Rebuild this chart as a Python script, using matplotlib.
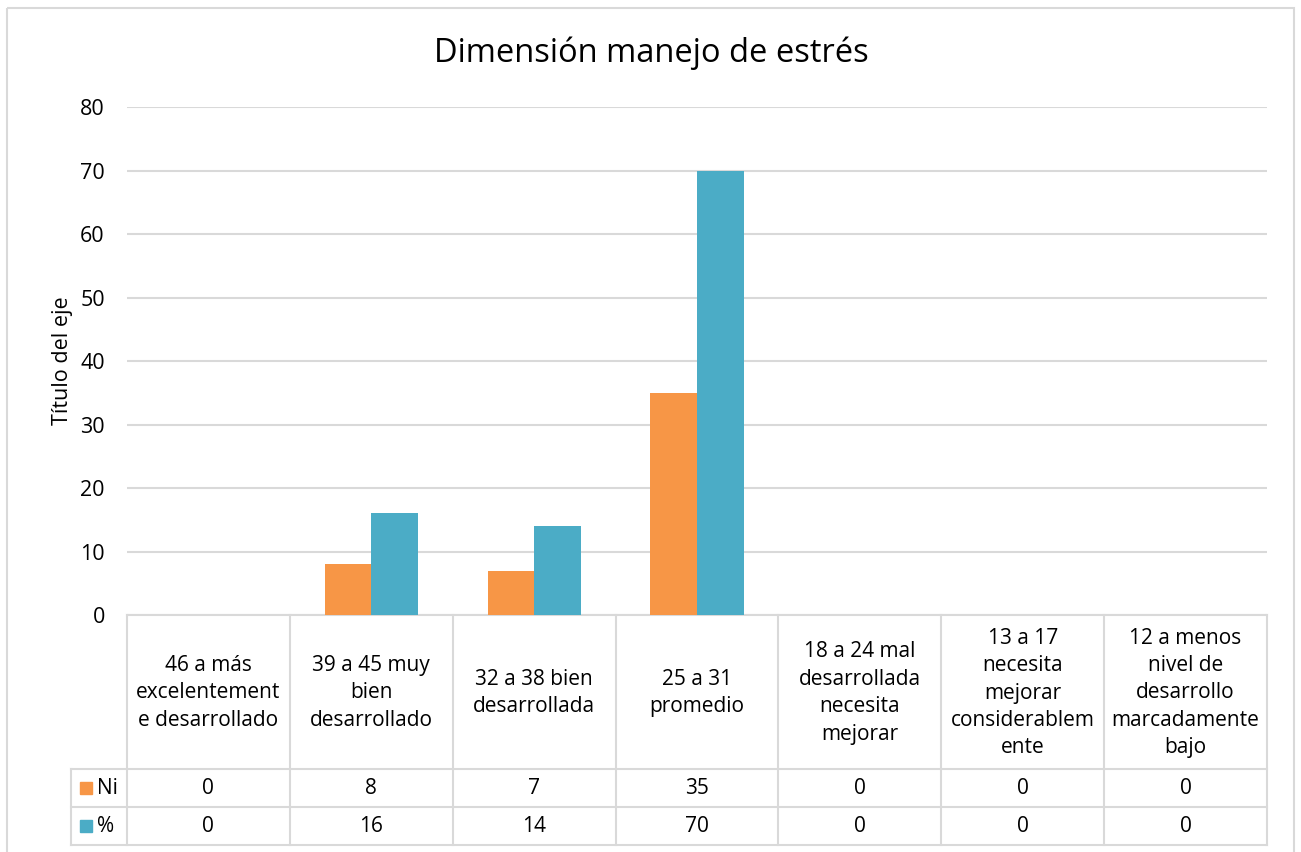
import matplotlib
matplotlib.use('Agg')
import matplotlib.pyplot as plt
from matplotlib.patches import Rectangle
import numpy as np

plt.rcParams['font.family'] = ['Open Sans', 'DejaVu Sans']

# ── Data ──────────────────────────────────────────────────────────────────────
categories = ["46 a más\nexcelentement\ne desarrollado",
              "39 a 45 muy\nbien\ndesarrollado",
              "32 a 38 bien\ndesarrollada",
              "25 a 31\npromedio",
              "18 a 24 mal\ndesarrollada\nnecesita\nmejorar",
              "13 a 17\nnecesita\nmejorar\nconsiderablem\nente",
              "12 a menos\nnivel de\ndesarrollo\nmarcadamente\nbajo"]
ni_values  = [0, 8, 7, 35, 0, 0, 0]
pct_values = [0, 16, 14, 70, 0, 0, 0]
series_names = ["Ni", "%"]
series_colors = ['#F79646', '#4BACC6']
title = "Dimensión manejo de estrés"
ylabel = "Título del eje"

# ── Layout (pixels) ───────────────────────────────────────────────────────────
W, H = 1301, 852
GRID = '#D9D9D9'
x0, x1 = 127, 1267          # plot area left/right
y_top, y_zero = 107, 615    # y=80 and y=0
lab_x = 71                  # left edge of legend column in table
row_edges = [615, 769, 807, 845]

fig = plt.figure(figsize=(W/100, H/100), dpi=100)
fig.patch.set_facecolor('white')

# overlay in pixel coordinates for frame + table
ov = fig.add_axes([0, 0, 1, 1])
ov.set_xlim(0, W)
ov.set_ylim(H, 0)
ov.axis('off')
ov.add_patch(Rectangle((7, 8), 1287, 860, fill=False, edgecolor=GRID, lw=1.5))

# main bar axes
ax = fig.add_axes([x0/W, 1 - y_zero/H, (x1 - x0)/W, (y_zero - y_top)/H])
ax.set_facecolor('none')
n = len(categories)
x = np.arange(n) + 0.5
w = 0.286
ax.bar(x - w/2, ni_values, w, color=series_colors[0], zorder=3)
ax.bar(x + w/2, pct_values, w, color=series_colors[1], zorder=3)
ax.set_xlim(0, n)
ax.set_ylim(0, 80)
ax.set_yticks(range(0, 81, 10))
ax.yaxis.grid(True, color=GRID, lw=1.5, zorder=0)
ax.set_axisbelow(True)
for s in ax.spines.values():
    s.set_visible(False)
ax.set_xticks([])
ax.tick_params(axis='y', length=0, labelsize=15.5, pad=16, labelcolor='#000000')
ax.set_ylabel(ylabel, fontsize=15.5, labelpad=5)

fig.text(651/W, 1 - 53/H, title, ha='center', va='center', fontsize=23.5)

# ── Data table ────────────────────────────────────────────────────────────────
colw = (x1 - x0) / n
col_edges = [x0 + i*colw for i in range(n + 1)]
lw = 1.5
# horizontal lines
ov.plot([x0, x1], [row_edges[0]]*2, color=GRID, lw=lw)
for yy in row_edges[1:]:
    ov.plot([lab_x, x1], [yy]*2, color=GRID, lw=lw)
# vertical lines
for xx in col_edges:
    ov.plot([xx, xx], [row_edges[0], row_edges[-1]], color=GRID, lw=lw)
ov.plot([lab_x, lab_x], [row_edges[1], row_edges[-1]], color=GRID, lw=lw)

fs = 15
for i, cat in enumerate(categories):
    cx = (col_edges[i] + col_edges[i+1]) / 2
    ov.text(cx, (row_edges[0] + row_edges[1]) / 2 + 1, cat, ha='center',
            va='center', fontsize=fs, linespacing=1.4)
    for r, vals in enumerate([ni_values, pct_values]):
        ov.text(cx, (row_edges[r+1] + row_edges[r+2]) / 2, str(vals[i]),
                ha='center', va='center', fontsize=fs)

for r, (name, col) in enumerate(zip(series_names, series_colors)):
    cy = (row_edges[r+1] + row_edges[r+2]) / 2
    ov.add_patch(Rectangle((80, cy - 6), 12, 12, color=col))
    ov.text(97, cy, name, ha='left', va='center', fontsize=fs)

plt.savefig('out.png', dpi=100, facecolor='white')
plt.close()
